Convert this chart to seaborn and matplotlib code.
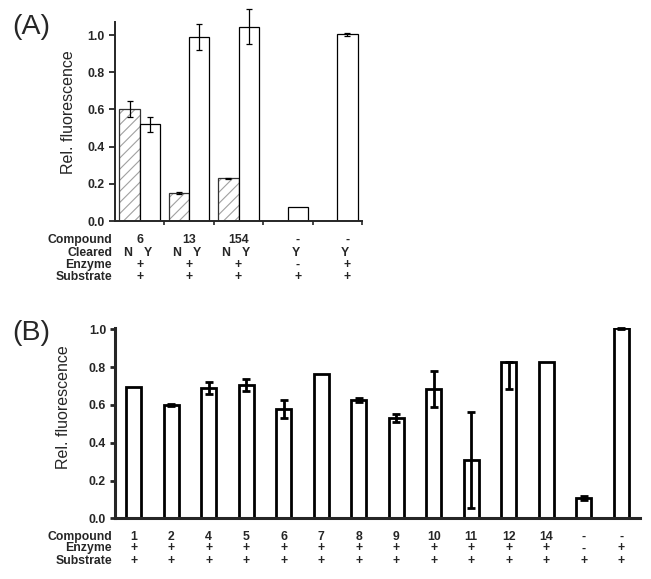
import numpy as np
import pandas as pd
import matplotlib
matplotlib.use("Agg")
import matplotlib.pyplot as plt
from matplotlib.colors import to_rgba
import seaborn as sns

# ---- panel A data ----
a_compound = ["6", "13", "154", "-", "-"]
a_cleared_n_label = ["N", "N", "N", None, None]
a_cleared_y_label = ["Y", "Y", "Y", "Y", "Y"]
a_enzyme = ["+", "+", "+", "-", "+"]
a_substrate = ["+", "+", "+", "+", "+"]
a_val_n = [0.60, 0.15, 0.23, np.nan, np.nan]
a_err_n = [0.043, 0.005, 0.003, np.nan, np.nan]
a_val_y = [0.52, 0.99, 1.045, 0.077, 1.005]
a_err_y = [0.04, 0.07, 0.095, 0.0, 0.008]

# ---- panel B data ----
b_compound = ["1", "2", "4", "5", "6", "7", "8", "9", "10", "11", "12", "14", "-", "-"]
b_enzyme = ["+"] * 12 + ["-", "+"]
b_substrate = ["+"] * 14
b_val = [0.693, 0.599, 0.688, 0.705, 0.577, 0.762, 0.626, 0.532, 0.684, 0.309, 0.825, 0.825, 0.109, 1.005]
b_err_lo = [0.0, 0.004, 0.032, 0.033, 0.048, 0.0, 0.01, 0.022, 0.097, 0.255, 0.14, 0.0, 0.01, 0.004]
b_err_hi = [0.0, 0.004, 0.032, 0.033, 0.048, 0.0, 0.01, 0.022, 0.097, 0.255, 0.0, 0.0, 0.01, 0.004]

sns.set_style("ticks")
plt.rcParams["font.family"] = ["Liberation Sans", "DejaVu Sans"]
plt.rcParams["hatch.linewidth"] = 0.8

FS = 8.8

fig = plt.figure(figsize=(6.51, 5.79), dpi=100)
axA = fig.add_axes([0.1767, 0.6183, 0.3794, 0.3437])
axB = fig.add_axes([0.1767, 0.1048, 0.8065, 0.3287])

# ---------------- Panel A ----------------
groups_a = [f"g{i}" for i in range(len(a_compound))]
rows = []
for g, vn, vy in zip(groups_a, a_val_n, a_val_y):
    if not np.isnan(vn):
        rows.append({"group": g, "cleared": "N", "value": vn})
    rows.append({"group": g, "cleared": "Y", "value": vy})
dfa = pd.DataFrame(rows)

sns.barplot(data=dfa, x="group", y="value", hue="cleared", order=groups_a,
            hue_order=["N", "Y"], palette={"N": "white", "Y": "white"},
            width=0.82, dodge=True, errorbar=None, edgecolor="black",
            linewidth=0.9, legend=False, ax=axA)

cont_n, cont_y = axA.containers[0], axA.containers[1]
for p in cont_n:
    p.set_hatch("///")
    p.set_edgecolor("#333333")
    p._hatch_color = to_rgba("#a0a0a0")

def centers(cont):
    return [p.get_x() + p.get_width() / 2 for p in cont]

xn = centers(cont_n)
xy = centers(cont_y)
vn = [v for v in a_val_n if not np.isnan(v)]
en = [e for e in a_err_n if not np.isnan(e)]
for xs, vs, es in [(xn, vn, en), (xy, a_val_y, a_err_y)]:
    xs2 = [x for x, e in zip(xs, es) if e > 0]
    vs2 = [v for v, e in zip(vs, es) if e > 0]
    es2 = [e for e in es if e > 0]
    axA.errorbar(xs2, vs2, yerr=es2, fmt="none", ecolor="black",
                 elinewidth=0.9, capsize=2.5, capthick=0.9, clip_on=False)

axA.set_xlim(-0.5, len(groups_a) - 0.5)
axA.set_ylim(0, 1.07)
axA.set_yticks([0.0, 0.2, 0.4, 0.6, 0.8, 1.0])
axA.set_yticklabels([f"{t:.1f}" for t in [0.0, 0.2, 0.4, 0.6, 0.8, 1.0]],
                    fontweight="bold", fontsize=FS)
axA.set_xticks([])
axA.set_xticks(np.arange(0.5, len(groups_a), 1.0), minor=True)
axA.tick_params(axis="x", which="minor", length=3, width=1.2, direction="out")
axA.tick_params(axis="y", length=4.5, width=1.3, pad=3)
axA.set_xlabel("")
axA.set_ylabel("Rel. fluorescence", fontsize=11.5)
axA.yaxis.set_label_coords(-0.16, 0.545)
for s in ["top", "right"]:
    axA.spines[s].set_visible(False)
for s in ["left", "bottom"]:
    axA.spines[s].set_linewidth(1.4)

# label rows under panel A
tr = axA.get_xaxis_transform()
row_y_a = {"Compound": -0.095, "Cleared": -0.161, "Enzyme": -0.221, "Substrate": -0.281}
for name, yy in row_y_a.items():
    axA.text(-0.012, yy, name, transform=axA.transAxes, ha="right", va="center",
             fontsize=FS, fontweight="bold")
nn = 0
for i in range(len(groups_a)):
    if a_cleared_n_label[i] is not None:
        gx = (xn[nn] + xy[i]) / 2
        axA.text(xn[nn] - 0.05, row_y_a["Cleared"], "N", transform=tr, ha="center",
                 va="center", fontsize=FS, fontweight="bold")
        nn += 1
    else:
        gx = xy[i]
    axA.text(xy[i] - 0.05, row_y_a["Cleared"], a_cleared_y_label[i], transform=tr,
             ha="center", va="center", fontsize=FS, fontweight="bold")
    axA.text(gx, row_y_a["Compound"], a_compound[i], transform=tr, ha="center",
             va="center", fontsize=FS, fontweight="bold")
    axA.text(gx, row_y_a["Enzyme"], a_enzyme[i], transform=tr, ha="center",
             va="center", fontsize=FS, fontweight="bold")
    axA.text(gx, row_y_a["Substrate"], a_substrate[i], transform=tr, ha="center",
             va="center", fontsize=FS, fontweight="bold")

# ---------------- Panel B ----------------
groups_b = [f"g{i}" for i in range(len(b_compound))]
dfb = pd.DataFrame({"group": groups_b, "value": b_val})
sns.barplot(data=dfb, x="group", y="value", order=groups_b, color="white",
            width=0.4, errorbar=None, edgecolor="black", linewidth=2.0, ax=axB)
xb = centers(axB.containers[0])
keep = [i for i in range(len(b_val)) if b_err_lo[i] > 0 or b_err_hi[i] > 0]
axB.errorbar([xb[i] for i in keep], [b_val[i] for i in keep],
             yerr=[[b_err_lo[i] for i in keep], [b_err_hi[i] for i in keep]],
             fmt="none", ecolor="black", elinewidth=2.0, capsize=3, capthick=2.0,
             clip_on=False)

axB.set_xlim(-0.5, len(groups_b) - 0.5)
axB.set_ylim(0, 1.007)
axB.set_yticks([0.0, 0.2, 0.4, 0.6, 0.8, 1.0])
axB.set_yticklabels([f"{t:.1f}" for t in [0.0, 0.2, 0.4, 0.6, 0.8, 1.0]],
                    fontweight="bold", fontsize=FS)
axB.set_xticks([])
axB.tick_params(axis="y", length=3.5, width=2.0, pad=3)
axB.set_xlabel("")
axB.set_ylabel("Rel. fluorescence", fontsize=11.5)
axB.yaxis.set_label_coords(-0.084, 0.582)
for s in ["top", "right"]:
    axB.spines[s].set_visible(False)
for s in ["left", "bottom"]:
    axB.spines[s].set_linewidth(2.2)

trb = axB.get_xaxis_transform()
row_y_b = {"Compound": -0.097, "Enzyme": -0.158, "Substrate": -0.223}
for name, yy in row_y_b.items():
    axB.text(-0.006, yy, name, transform=axB.transAxes, ha="right", va="center",
             fontsize=FS, fontweight="bold")
for i, x in enumerate(xb):
    for name, vals in [("Compound", b_compound), ("Enzyme", b_enzyme),
                       ("Substrate", b_substrate)]:
        axB.text(x, row_y_b[name], vals[i], transform=trb, ha="center",
                 va="center", fontsize=FS, fontweight="bold")

fig.text(12 / 651, 1 - 27 / 579, "(A)", ha="left", va="center", fontsize=20.5)
fig.text(12 / 651, 1 - 333 / 579, "(B)", ha="left", va="center", fontsize=20.5)

fig.savefig("out.png", dpi=100)
